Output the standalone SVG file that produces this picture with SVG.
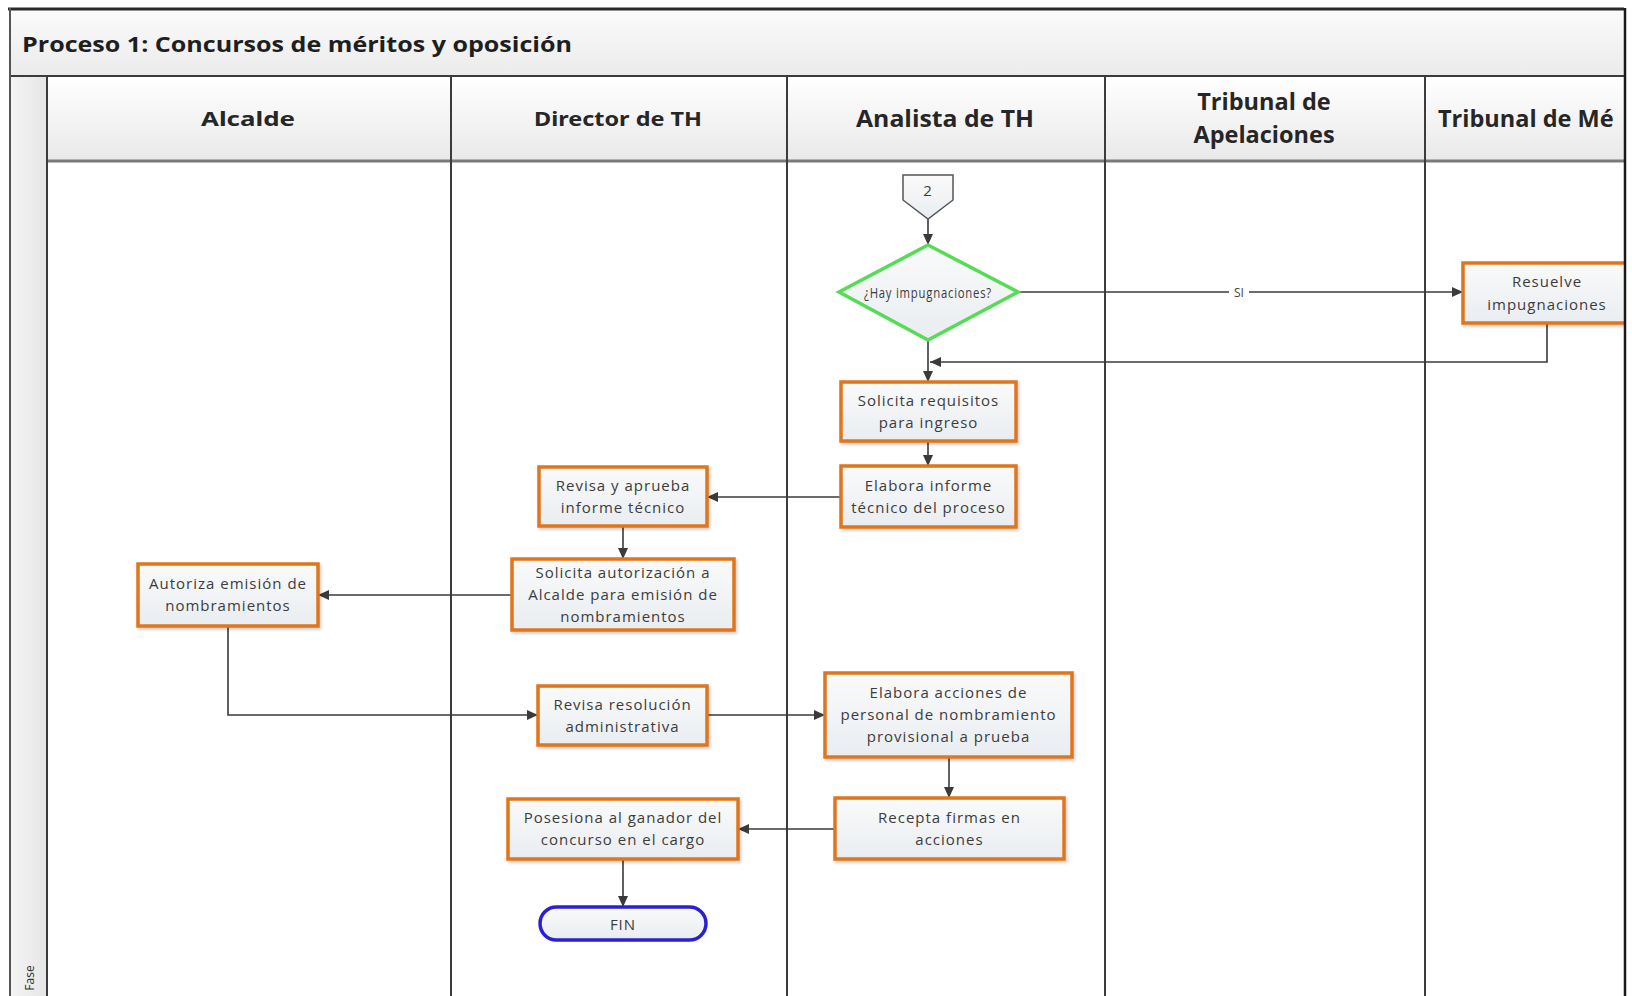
<svg xmlns="http://www.w3.org/2000/svg" width="1632" height="996" viewBox="0 0 1632 996">
  <defs>
    <linearGradient id="barFill" x1="0" y1="0" x2="0" y2="1">
      <stop offset="0" stop-color="#fbfbfb"/>
      <stop offset="1" stop-color="#ebebeb"/>
    </linearGradient>
    <linearGradient id="headFill" x1="0" y1="0" x2="0" y2="1">
      <stop offset="0" stop-color="#ffffff"/>
      <stop offset="1" stop-color="#e9e9e9"/>
    </linearGradient>
    <linearGradient id="laneSide" x1="0" y1="0" x2="1" y2="0">
      <stop offset="0" stop-color="#f4f4f4"/>
      <stop offset="1" stop-color="#e6e6e6"/>
    </linearGradient>
    <linearGradient id="boxFill" x1="0" y1="0" x2="0" y2="1">
      <stop offset="0" stop-color="#fafafa"/>
      <stop offset="1" stop-color="#e9edf1"/>
    </linearGradient>
    <filter id="shadow" x="-10%" y="-10%" width="125%" height="130%">
      <feDropShadow dx="1.5" dy="2" stdDeviation="1.5" flood-color="#000" flood-opacity="0.2"/>
    </filter>
    <marker id="arrow" markerUnits="userSpaceOnUse" markerWidth="11" markerHeight="10" refX="11" refY="5" orient="auto">
      <path d="M0,0 L11,5 L0,10 Z" fill="#3a3a3a"/>
    </marker>
    <clipPath id="frameClip">
      <rect x="0" y="0" width="1624" height="996"/>
    </clipPath>
    <style>
      .lane { stroke: #3c3c3c; stroke-width: 2; fill: none; }
      .title { font-family: "Open Sans", "Liberation Sans", sans-serif; font-weight: bold; font-size: 22px; fill: #1e1e1e; }
      .hdrA { font-family: "Noto Sans", "DejaVu Sans", sans-serif; font-weight: bold; font-size: 19px; fill: #262626; }
      .hdrB { font-family: "Open Sans", "Liberation Sans", sans-serif; font-weight: bold; font-size: 23.5px; fill: #262626; }
      .box { fill: url(#boxFill); stroke: #e0761c; stroke-width: 3.5; filter: url(#shadow); }
      .txt { font-family: "Open Sans", "Liberation Sans", sans-serif; font-size: 15px; letter-spacing: 1px; fill: #3c3c3c; text-anchor: middle; dominant-baseline: central; }
      .conn { stroke: #3a3a3a; stroke-width: 1.6; fill: none; marker-end: url(#arrow); }
    </style>
  </defs>

  <rect x="0" y="0" width="1632" height="996" fill="#ffffff"/>

  <g clip-path="url(#frameClip)">
    <!-- pool title bar -->
    <g id="pool-title">
      <rect x="10" y="9" width="1615" height="67" fill="url(#barFill)"/>
      <text class="title" x="22" y="52" textLength="550" lengthAdjust="spacingAndGlyphs">Proceso 1: Concursos de méritos y oposición</text>
    </g>

    <!-- phase strip on the left -->
    <g id="phase-strip">
      <rect x="10" y="76" width="37" height="920" fill="url(#laneSide)"/>
      <text x="34" y="978" transform="rotate(-90 34 978)" font-family="Open Sans, Liberation Sans, sans-serif" font-size="12" fill="#333" text-anchor="middle">Fase</text>
    </g>

    <!-- lane headers -->
    <g id="lane-headers">
      <rect x="47" y="76" width="1578" height="85" fill="url(#headFill)"/>
      <text class="hdrA" x="248" y="126" text-anchor="middle" textLength="94" lengthAdjust="spacingAndGlyphs">Alcalde</text>
      <text class="hdrA" x="618" y="126" text-anchor="middle" textLength="168" lengthAdjust="spacingAndGlyphs">Director de TH</text>
      <text class="hdrB" x="945" y="127" text-anchor="middle" textLength="178" lengthAdjust="spacingAndGlyphs">Analista de TH</text>
      <text class="hdrB" x="1264" y="110" text-anchor="middle">Tribunal de</text>
      <text class="hdrB" x="1264" y="143" text-anchor="middle">Apelaciones</text>
      <text class="hdrB" x="1438" y="127">Tribunal de Mé</text>
      <line x1="47" y1="161" x2="1625" y2="161" stroke="#7a7a7a" stroke-width="3"/>
    </g>

    <!-- lane separators and frame -->
    <g id="lanes">
      <line class="lane" x1="10" y1="76" x2="1625" y2="76"/>
      <line class="lane" x1="47" y1="76" x2="47" y2="996"/>
      <line class="lane" x1="451" y1="76" x2="451" y2="996"/>
      <line class="lane" x1="787" y1="76" x2="787" y2="996"/>
      <line class="lane" x1="1105" y1="76" x2="1105" y2="996"/>
      <line class="lane" x1="1425" y1="76" x2="1425" y2="996"/>
      <line x1="8" y1="9" x2="1626" y2="9" stroke="#2a2a2a" stroke-width="3"/>
      <line x1="10" y1="8" x2="10" y2="996" stroke="#555" stroke-width="2"/>
    </g>

    <!-- connectors -->
    <g id="connectors">
      <path class="conn" d="M928,219 L928,245"/>
      <path class="conn" d="M1018,292 L1463,292"/>
      <path class="conn" d="M1547,323 L1547,362 L930,362"/>
      <path class="conn" d="M928,340 L928,382"/>
      <path class="conn" d="M928,441 L928,466"/>
      <path class="conn" d="M841,497 L707,497"/>
      <path class="conn" d="M623,526 L623,559"/>
      <path class="conn" d="M512,595 L318,595"/>
      <path class="conn" d="M228,626 L228,715 L538,715"/>
      <path class="conn" d="M707,715 L825,715"/>
      <path class="conn" d="M949,757 L949,798"/>
      <path class="conn" d="M835,829 L738,829"/>
      <path class="conn" d="M623,859 L623,907"/>
      <rect x="1229" y="284" width="20" height="16" fill="#ffffff"/>
      <text x="1239" y="292" font-family="Open Sans, Liberation Sans, sans-serif" font-size="12" fill="#444" text-anchor="middle" dominant-baseline="central">SI</text>
    </g>

    <!-- nodes -->
    <g id="offpage-2">
      <path d="M903,175 L953,175 L953,200 L928,219 L903,200 Z" fill="url(#boxFill)" stroke="#555" stroke-width="1.5"/>
      <text class="txt" x="928" y="190" font-size="12" letter-spacing="0">2</text>
    </g>

    <g id="decision-impugnaciones">
      <path d="M928,245 L1018,292 L928,340 L839,292 Z" fill="url(#boxFill)" stroke="#55dc55" stroke-width="3.5"/>
      <text class="txt" x="928" y="292" font-size="10" letter-spacing="0" textLength="128" lengthAdjust="spacingAndGlyphs">¿Hay impugnaciones?</text>
    </g>

    <g id="resuelve-impugnaciones">
      <rect class="box" x="1463" y="263" width="172" height="60"/>
      <text class="txt" x="1547" y="281">Resuelve</text>
      <text class="txt" x="1547" y="304">impugnaciones</text>
    </g>

    <g id="solicita-requisitos">
      <rect class="box" x="841" y="382" width="175" height="59"/>
      <text class="txt" x="928.5" y="400">Solicita requisitos</text>
      <text class="txt" x="928.5" y="422">para ingreso</text>
    </g>

    <g id="elabora-informe">
      <rect class="box" x="841" y="466" width="175" height="61"/>
      <text class="txt" x="928.5" y="485">Elabora informe</text>
      <text class="txt" x="928.5" y="507">técnico del proceso</text>
    </g>

    <g id="revisa-aprueba">
      <rect class="box" x="539" y="467" width="168" height="59"/>
      <text class="txt" x="623" y="485">Revisa y aprueba</text>
      <text class="txt" x="623" y="507">informe técnico</text>
    </g>

    <g id="solicita-autorizacion">
      <rect class="box" x="512" y="559" width="222" height="71"/>
      <text class="txt" x="623" y="572">Solicita autorización a</text>
      <text class="txt" x="623" y="594">Alcalde para emisión de</text>
      <text class="txt" x="623" y="616">nombramientos</text>
    </g>

    <g id="autoriza-emision">
      <rect class="box" x="138" y="564" width="180" height="62"/>
      <text class="txt" x="228" y="583">Autoriza emisión de</text>
      <text class="txt" x="228" y="605">nombramientos</text>
    </g>

    <g id="revisa-resolucion">
      <rect class="box" x="538" y="686" width="169" height="59"/>
      <text class="txt" x="622.5" y="704">Revisa resolución</text>
      <text class="txt" x="622.5" y="726">administrativa</text>
    </g>

    <g id="elabora-acciones">
      <rect class="box" x="825" y="673" width="247" height="84"/>
      <text class="txt" x="948.5" y="692">Elabora acciones de</text>
      <text class="txt" x="948.5" y="714">personal de nombramiento</text>
      <text class="txt" x="948.5" y="736">provisional a prueba</text>
    </g>

    <g id="recepta-firmas">
      <rect class="box" x="835" y="798" width="229" height="61"/>
      <text class="txt" x="949.5" y="817">Recepta firmas en</text>
      <text class="txt" x="949.5" y="839">acciones</text>
    </g>

    <g id="posesiona-ganador">
      <rect class="box" x="508" y="799" width="230" height="60"/>
      <text class="txt" x="623" y="817">Posesiona al ganador del</text>
      <text class="txt" x="623" y="839">concurso en el cargo</text>
    </g>

    <g id="fin">
      <rect x="540" y="907" width="166" height="33" rx="16.5" fill="url(#boxFill)" stroke="#2b1fd4" stroke-width="3.5"/>
      <text class="txt" x="623" y="923.5">FIN</text>
    </g>
  </g>

  <!-- right edge of the frame -->
  <line x1="1625" y1="8" x2="1625" y2="996" stroke="#1a1a1a" stroke-width="2.5"/>
</svg>
